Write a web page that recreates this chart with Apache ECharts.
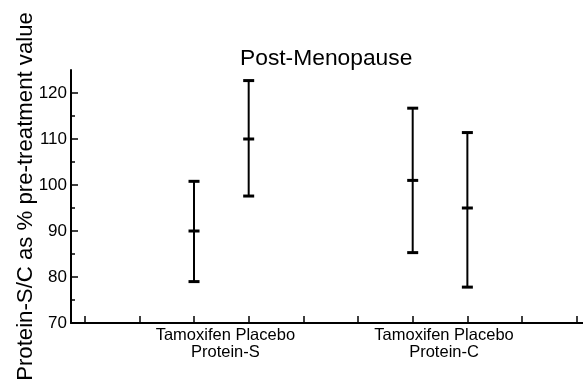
<!DOCTYPE html>
<html>
<head>
<meta charset="utf-8">
<script src="https://cdn.jsdelivr.net/npm/echarts@6/dist/echarts.min.js"></script>
<style>
html,body{margin:0;padding:0;background:#fff;}
#c{width:583px;height:379px;}
</style>
</head>
<body>
<div id="c"></div>
<script>
// ---- data ----
const titleText = 'Post-Menopause';
const yAxisName = 'Protein-S/C as % pre-treatment value';
const groups = ['Protein-S', 'Protein-C'];
const treatments = ['Tamoxifen', 'Placebo'];
const groupCenters = [2.5, 6.5];          // axis positions of group labels
const barPositions = [2, 3, 6, 7];        // Tamoxifen-S, Placebo-S, Tamoxifen-C, Placebo-C
const means = [90, 110, 101, 95];
const lows  = [79, 97.6, 85.3, 77.8];
const highs = [100.8, 122.7, 116.7, 111.4];
const xTickValues = [0, 1, 2, 3, 4, 5, 6, 7, 8, 9];
const yLabelValues = [70, 80, 90, 100, 110, 120];
const yMajorTicks = [70, 80, 90, 100, 110, 120];
const yMinorTicks = [75, 85, 95, 105, 115];

const data = barPositions.map((x, i) => [x, lows[i], means[i], highs[i]]);
const ink = '#000';
const font = 'Liberation Sans, Arial, sans-serif';

const yBase = {
  type: 'value',
  min: 70,
  max: 125,
  interval: 10,
  position: 'left',
  offset: 0,
  splitLine: {show: false}
};

const chart = echarts.init(document.getElementById('c'), null, {renderer: 'canvas'});
chart.setOption({
  backgroundColor: '#fff',
  animation: false,
  title: {
    text: titleText,
    left: 235,
    top: 42,
    textStyle: {fontFamily: font, fontSize: 22.8, fontWeight: 'normal', color: ink}
  },
  grid: {left: 71, right: 0, top: 70, bottom: 56, containLabel: false, outerBoundsMode: 'none'},
  xAxis: {
    type: 'value',
    min: -0.25,
    max: 9.115,
    splitLine: {show: false},
    axisLine: {show: true, onZero: false, lineStyle: {color: ink, width: 2}},
    axisTick: {show: true, inside: true, length: 7, customValues: xTickValues, lineStyle: {color: ink, width: 1.5}},
    axisLabel: {
      show: true,
      customValues: groupCenters,
      margin: 4,
      padding: [0, 0, 0, 8],
      fontFamily: font,
      fontSize: 16.5,
      lineHeight: 17,
      color: ink,
      formatter: function (v) {
        const gi = groupCenters.indexOf(v);
        return treatments.join(' ') + '\n' + (gi >= 0 ? groups[gi] : '');
      }
    }
  },
  yAxis: [Object.assign({}, yBase, {
    name: yAxisName,
    nameLocation: 'middle',
    nameGap: 34,
    nameMoveOverlap: false,
    nameTextStyle: {fontFamily: font, fontSize: 22.2, color: ink},
    axisLine: {show: true, onZero: false, lineStyle: {color: ink, width: 2}},
    axisTick: {show: true, inside: true, length: 7, customValues: yMajorTicks, lineStyle: {color: ink, width: 1.5}},
    axisLabel: {customValues: yLabelValues, margin: 4, fontFamily: font, fontSize: 17, color: ink}
  }), Object.assign({}, yBase, {
    axisLine: {show: false, onZero: false},
    axisTick: {show: true, inside: true, length: 4, customValues: yMinorTicks, lineStyle: {color: ink, width: 1.5}},
    axisLabel: {show: false}
  })],
  series: [{
    type: 'custom',
    xAxisIndex: 0,
    yAxisIndex: 0,
    data: data,
    encode: {x: 0, y: [1, 2, 3]},
    renderItem: function (params, api) {
      const x = api.value(0);
      const pLo = api.coord([x, api.value(1)]);
      const pM = api.coord([x, api.value(2)]);
      const pHi = api.coord([x, api.value(3)]);
      const hw = 5.5;
      const cap = (p) => ({
        type: 'line',
        shape: {x1: p[0] - hw, y1: p[1], x2: p[0] + hw, y2: p[1]},
        style: {stroke: ink, lineWidth: 3}
      });
      return {
        type: 'group',
        children: [
          {type: 'line', shape: {x1: pLo[0], y1: pLo[1], x2: pHi[0], y2: pHi[1]}, style: {stroke: ink, lineWidth: 2}},
          cap(pLo), cap(pM), cap(pHi)
        ]
      };
    }
  }]
});
</script>
</body>
</html>
